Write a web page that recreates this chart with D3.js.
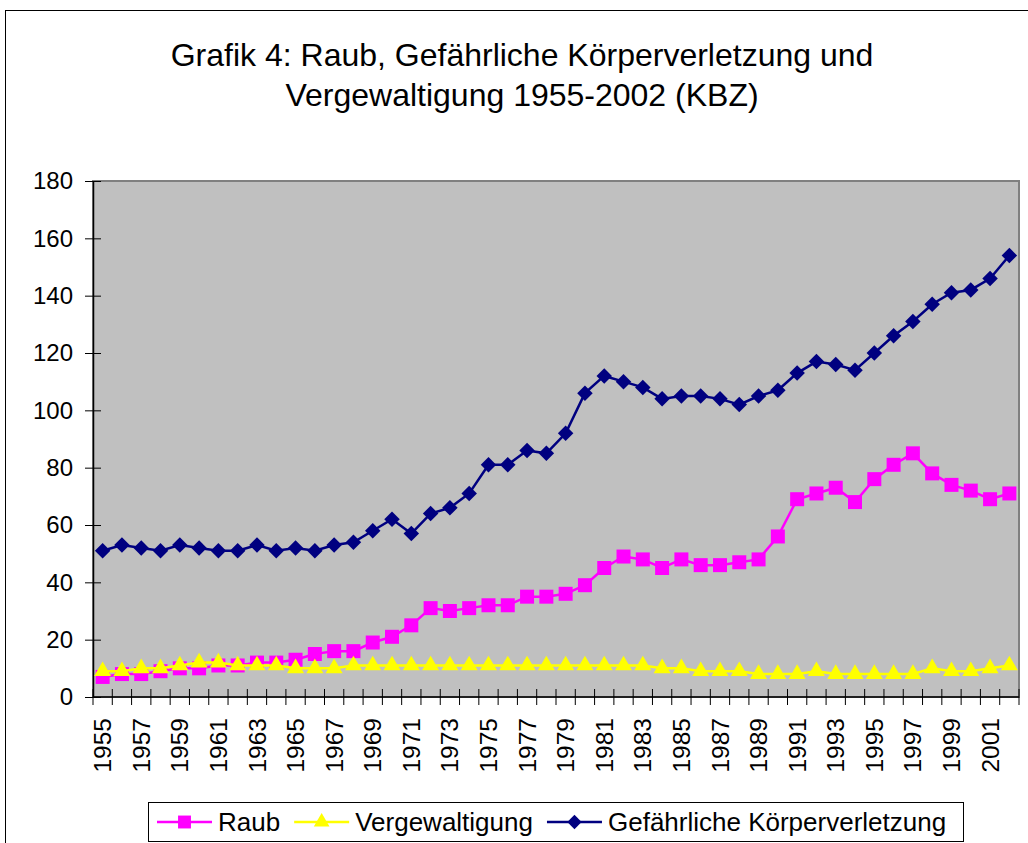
<!DOCTYPE html>
<html>
<head>
<meta charset="utf-8">
<script src="https://cdn.jsdelivr.net/npm/d3@7"></script>
<style>
  body { margin: 0; background: #fff; }
  svg { display: block; font-family: Arial, "Liberation Sans", sans-serif; }
</style>
</head>
<body>
<svg id="chart" width="1028" height="843"></svg>
<script>
// values, 1955-2002
var years = d3.range(1955, 2003);
var raub = [7, 8, 8, 9, 10, 10, 11, 11, 12, 12, 13, 15, 16, 16, 19, 21, 25, 31, 30, 31,
  32, 32, 35, 35, 36, 39, 45, 49, 48, 45, 48, 46, 46, 47, 48, 56, 69, 71, 73, 68,
  76, 81, 85, 78, 74, 72, 69, 71];
var vergewaltigung = [9, 9, 10, 10, 11, 12, 12, 11, 11, 11, 10, 10, 10, 11, 11, 11, 11, 11, 11, 11,
  11, 11, 11, 11, 11, 11, 11, 11, 11, 10, 10, 9, 9, 9, 8, 8, 8, 9, 8, 8,
  8, 8, 8, 10, 9, 9, 10, 11];
var koerperverletzung = [51, 53, 52, 51, 53, 52, 51, 51, 53, 51, 52, 51, 53, 54, 58, 62, 57, 64, 66, 71,
  81, 81, 86, 85, 92, 106, 112, 110, 108, 104, 105, 105, 104, 102, 105, 107, 113, 117, 116, 114,
  120, 126, 131, 137, 141, 142, 146, 154];
var yTicks = d3.range(0, 181, 20);
var titleLines = ["Grafik 4: Raub, Gefährliche Körperverletzung und", "Vergewaltigung 1955-2002 (KBZ)"];

!function(){
  // excel style diamond: a square turned 45 degrees
  var squareDiamond = {
    draw: function(ctx, size) {
      var r = Math.sqrt(size / 2);
      ctx.moveTo(0, -r); ctx.lineTo(r, 0); ctx.lineTo(0, r); ctx.lineTo(-r, 0); ctx.closePath();
    }
  };
  var series = [
    {name: "Raub", values: raub, color: "#ff00ff", symbol: d3.symbolSquare, size: 196},
    {name: "Vergewaltigung", values: vergewaltigung, color: "#ffff00", symbol: d3.symbolTriangle, size: 125},
    {name: "Gefährliche Körperverletzung", values: koerperverletzung, color: "#000080", symbol: squareDiamond, size: 120}
  ];

  var svg = d3.select("#chart");
  var pLeft = 93, pRight = 1019, pTop = 181, pBottom = 697;

  var x = d3.scaleBand().domain(years).range([pLeft, pRight]);
  var y = d3.scaleLinear().domain([0, 180]).range([pBottom, pTop]);
  var cx = function(d) { return x(d) + x.bandwidth() / 2; };

  // outer frame
  svg.append("rect").attr("x", 5.5).attr("y", 10.5).attr("width", 1040).attr("height", 900)
    .attr("fill", "none").attr("stroke", "#000").attr("stroke-width", 1);

  // title
  svg.append("g").selectAll("text").data(titleLines).join("text")
    .attr("x", 522).attr("y", function(d, i) { return 66 + i * 40; })
    .attr("text-anchor", "middle").attr("font-size", 32).attr("fill", "#000")
    .text(function(d) { return d; });

  // plot area
  svg.append("rect").attr("x", pLeft).attr("y", pTop).attr("width", pRight - pLeft).attr("height", pBottom - pTop)
    .attr("fill", "#c0c0c0").attr("stroke", "#808080").attr("stroke-width", 2);

  // y axis
  var yAxis = svg.append("g").attr("transform", "translate(" + pLeft + ",0)")
    .call(d3.axisLeft(y).tickValues(yTicks).tickSize(8).tickPadding(12).tickSizeOuter(0));
  yAxis.selectAll(".tick line").attr("x2", 8).attr("x1", -8).attr("stroke", "#000");
  yAxis.selectAll("text").attr("font-size", 24).attr("font-family", "Arial, 'Liberation Sans', sans-serif").attr("fill", "#000");
  yAxis.select(".domain").attr("stroke", "#000").attr("stroke-width", 1.5);

  // x axis: ticks between categories, labels for every second year
  var edges = years.map(function(d) { return x(d); }).concat([pRight]);
  var xAxis = svg.append("g");
  xAxis.append("line").attr("x1", pLeft).attr("x2", pRight).attr("y1", pBottom).attr("y2", pBottom)
    .attr("stroke", "#000").attr("stroke-width", 1.5);
  xAxis.selectAll("line.tk").data(edges).join("line").attr("class", "tk")
    .attr("x1", function(d) { return d; }).attr("x2", function(d) { return d; })
    .attr("y1", pBottom - 8).attr("y2", pBottom + 8).attr("stroke", "#000");
  xAxis.selectAll("text").data(years.filter(function(d, i) { return i % 2 === 0; })).join("text")
    .attr("transform", function(d) { return "translate(" + cx(d) + ",718) rotate(-90)"; })
    .attr("text-anchor", "end").attr("dy", "0.35em").attr("font-size", 24.5).attr("fill", "#000")
    .text(function(d) { return d; });

  // lines and markers
  var line = d3.line().x(function(d, i) { return cx(years[i]); }).y(function(d) { return y(d); });
  series.forEach(function(s) {
    var g = svg.append("g");
    g.append("path").datum(s.values).attr("d", line)
      .attr("fill", "none").attr("stroke", s.color).attr("stroke-width", 2.5);
    g.selectAll("path.m").data(s.values).join("path").attr("class", "m")
      .attr("d", d3.symbol().type(s.symbol).size(s.size))
      .attr("transform", function(d, i) { return "translate(" + cx(years[i]) + "," + y(d) + ")"; })
      .attr("fill", s.color);
  });

  // legend
  var legend = svg.append("g");
  legend.append("rect").attr("x", 148.5).attr("y", 802.5).attr("width", 815).attr("height", 39)
    .attr("fill", "#fff").attr("stroke", "#000").attr("stroke-width", 1);
  var lx = 157;
  series.forEach(function(s) {
    var it = legend.append("g");
    it.append("line").attr("x1", lx).attr("x2", lx + 55).attr("y1", 822).attr("y2", 822)
      .attr("stroke", s.color).attr("stroke-width", 2.5);
    it.append("path").attr("d", d3.symbol().type(s.symbol).size(s.size * 0.85))
      .attr("transform", "translate(" + (lx + 27.5) + ",822)").attr("fill", s.color);
    var t = it.append("text").attr("x", lx + 61).attr("y", 831).attr("font-size", 26).attr("fill", "#000").text(s.name);
    lx += 61 + t.node().getComputedTextLength() + 14;
  });
}();
</script>
</body>
</html>
